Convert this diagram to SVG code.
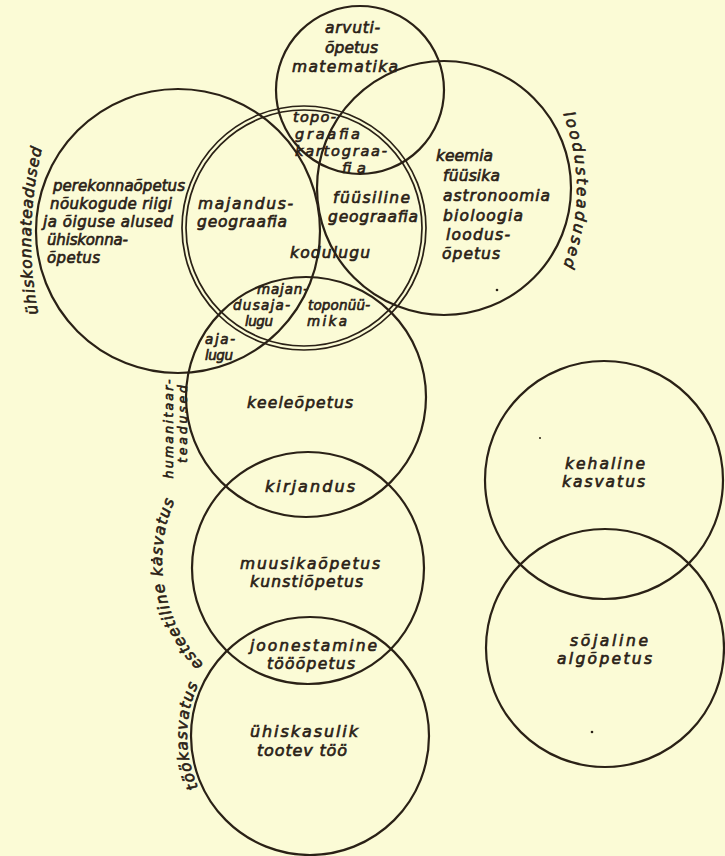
<svg xmlns="http://www.w3.org/2000/svg" width="725" height="856" viewBox="0 0 725 856">
<style>
.c{fill:none;stroke:#2a2116;stroke-width:2.2}
.d{fill:none;stroke:#2a2116;stroke-width:1.7}
text{font-family:"DejaVu Sans","Liberation Sans",sans-serif;font-style:oblique;fill:#2a2116;stroke:#2a2116;stroke-width:0.65}
.s12{font-size:12.5px}.s13{font-size:13.5px}.s14{font-size:14.5px}.s15{font-size:15px}.s16{font-size:15.5px}.s17{font-size:16px}
</style>
<defs>
<path id="pSoc" d="M 40 322 Q 20 232 44 140"/>
<path id="pNat" d="M 560 105 Q 594 190 560 275"/>
<path id="pAes" d="M 237 690.9 A 150 150 0 0 1 197.1 464.6"/>
<path id="pWork" d="M 215.8 815.1 A 123 123 0 0 1 215.8 656.9"/>
</defs>
<rect width="725" height="856" fill="#fbfbd6"/>

<g id="matematika">
<circle class="c" cx="360" cy="90" r="84"/>
<text class="s16" x="325" y="33" textLength="55">arvuti-</text>
<text class="s16" x="325" y="53" textLength="53">õpetus</text>
<text class="s16" x="292" y="72" textLength="106">matematika</text>
</g>

<g id="uhiskonnateadused">
<circle class="c" cx="178" cy="231" r="142"/>
<text class="s16"><textPath href="#pSoc" startOffset="50%" text-anchor="middle" textLength="167">ühiskonnateadused</textPath></text>
<text class="s15" x="53" y="191" textLength="132">perekonnaõpetus</text>
<text class="s15" x="50" y="209" textLength="122">nõukogude riigi</text>
<text class="s15" x="43" y="227" textLength="130">ja õiguse alused</text>
<text class="s15" x="47" y="245" textLength="81">ühiskonna-</text>
<text class="s15" x="47" y="263" textLength="53">õpetus</text>
</g>

<g id="loodusteadused">
<circle class="c" cx="444" cy="188" r="127"/>
<text class="s16"><textPath href="#pNat" startOffset="50%" text-anchor="middle" textLength="156">loodusteadused</textPath></text>
<text class="s16" x="436" y="161" textLength="57">keemia</text>
<text class="s16" x="443" y="181" textLength="57">füüsika</text>
<text class="s16" x="443" y="201" textLength="107">astronoomia</text>
<text class="s16" x="443" y="221" textLength="80">bioloogia</text>
<text class="s16" x="446" y="240" textLength="64">loodus-</text>
<text class="s16" x="442" y="259" textLength="58">õpetus</text>
</g>

<g id="geograafia">
<circle class="d" cx="304" cy="228" r="122"/>
<circle class="d" cx="304" cy="228" r="118"/>
<text class="s16" x="198" y="209" textLength="95">majandus-</text>
<text class="s16" x="197" y="227" textLength="90">geograafia</text>
<text class="s16" x="333" y="203" textLength="77">füüsiline</text>
<text class="s16" x="328" y="222" textLength="90">geograafia</text>
<text class="s16" x="290" y="258" textLength="80">kodulugu</text>
<text class="s14" x="293" y="122" textLength="43">topo-</text>
<text class="s14" x="295" y="139" textLength="65">graafia</text>
<text class="s14" x="295" y="156" textLength="92">kartograa-</text>
<text class="s14" x="342" y="173" textLength="24">fia</text>
</g>

<g id="humanitaarteadused">
<circle class="c" cx="306" cy="397" r="120"/>
<text class="s12" transform="rotate(-90)" x="-429" y="173" text-anchor="middle" textLength="99">humanitaar-</text>
<text class="s12" transform="rotate(-90)" x="-424" y="187" text-anchor="middle" textLength="78">teadused</text>
<text class="s13" x="257" y="294" textLength="51">majan-</text>
<text class="s13" x="233" y="310" textLength="57">dusaja-</text>
<text class="s13" x="245" y="326" textLength="28">lugu</text>
<text class="s13" x="308" y="310" textLength="62">toponüü-</text>
<text class="s13" x="307" y="326" textLength="40">mika</text>
<text class="s13" x="205" y="344" textLength="30">aja-</text>
<text class="s13" x="205" y="360" textLength="28">lugu</text>
<text class="s16" x="247" y="408" textLength="106">keeleõpetus</text>
<text class="s17" x="265" y="492" textLength="90">kirjandus</text>
</g>

<g id="esteetiline-kasvatus">
<circle class="c" cx="308" cy="568" r="116"/>
<text class="s16"><textPath href="#pAes" startOffset="50%" text-anchor="middle" textLength="176">esteetiline kasvatus</textPath></text>
<text class="s16" x="240" y="569" textLength="140">muusikaõpetus</text>
<text class="s16" x="250" y="587" textLength="113">kunstiõpetus</text>
<text class="s16" x="250" y="651" textLength="127">joonestamine</text>
<text class="s16" x="267" y="669" textLength="88">tööõpetus</text>
</g>

<g id="tookasvatus">
<circle class="c" cx="310" cy="736" r="119"/>
<text class="s16"><textPath href="#pWork" startOffset="50%" text-anchor="middle" textLength="106">töökasvatus</textPath></text>
<text class="s17" x="250" y="737" textLength="108">ühiskasulik</text>
<text class="s17" x="257" y="756" textLength="90">tootev töö</text>
</g>

<g id="kehaline-kasvatus">
<circle class="c" cx="604" cy="480" r="119"/>
<text class="s16" x="565" y="469" textLength="80">kehaline</text>
<text class="s16" x="562" y="487" textLength="83">kasvatus</text>
</g>

<g id="sojaline-algopetus">
<circle class="c" cx="605" cy="648" r="119"/>
<text class="s16" x="570" y="646" textLength="78">sõjaline</text>
<text class="s16" x="557" y="664" textLength="95">algõpetus</text>
</g>

<g id="specks" fill="#2a2116">
<circle cx="497" cy="290" r="1.3"/>
<circle cx="592" cy="732" r="1.3"/>
<circle cx="540" cy="438" r="1"/>
<circle cx="152" cy="560" r="1.2"/>
</g>
</svg>
